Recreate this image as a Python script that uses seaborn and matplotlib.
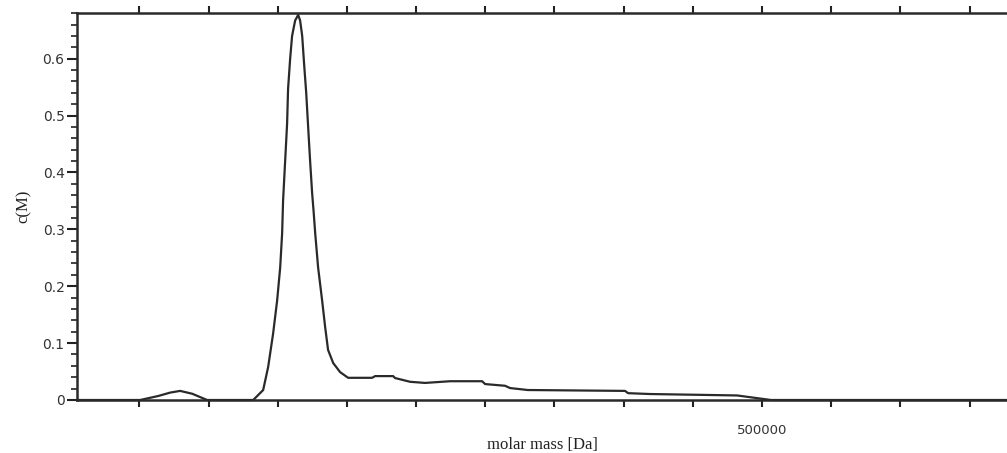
import matplotlib
matplotlib.use("Agg")
import matplotlib.pyplot as plt
import pandas as pd
import seaborn as sns
import numpy as np
from matplotlib.ticker import MultipleLocator

# molar mass distribution c(M)
molar_mass = [5000, 50600, 63600, 72300, 79500, 88200, 99000, 132300, 139500, 143100,
              146700, 149600, 151800, 153200, 153900, 155400, 156800, 157500, 159000,
              160400, 162600, 164800, 166200, 167700, 169100, 170600, 172000, 173400,
              174900, 175900, 177100, 179200, 182100, 184300, 186400, 190100, 195100,
              200900, 218200, 220400, 233400, 234800, 245700, 256500, 274600, 297700,
              299900, 314300, 317900, 330900, 332400, 401000, 403200, 419100, 481900,
              506500, 677000]
c_M = [0.0, 0.0, 0.007, 0.013, 0.016, 0.011, 0.0, 0.0, 0.0175, 0.058,
       0.117, 0.175, 0.233, 0.293, 0.351, 0.421, 0.486, 0.547, 0.600,
       0.640, 0.667, 0.677, 0.667, 0.640, 0.590, 0.540, 0.480, 0.421,
       0.363, 0.333, 0.293, 0.233, 0.175, 0.128, 0.088, 0.065, 0.049,
       0.039, 0.039, 0.042, 0.042, 0.0386, 0.032, 0.030, 0.033, 0.033,
       0.028, 0.025, 0.021, 0.0175, 0.0175, 0.016, 0.012, 0.0105, 0.008,
       0.0, 0.0]

xticks = list(range(50000, 700000, 50000))
xtick_labels = ["500000" if t == 500000 else "" for t in xticks]
yticks = [0, 0.1, 0.2, 0.3, 0.4, 0.5, 0.6]
ytick_labels = ["0", "0.1", "0.2", "0.3", "0.4", "0.5", "0.6"]

df = pd.DataFrame({"molar mass": molar_mass, "c(M)": c_M})

sns.set_style("ticks")
plt.rcParams["font.family"] = ["DejaVu Sans"]

fig = plt.figure(figsize=(10.07, 4.53), dpi=100)
ax = fig.add_axes([0.0765, 0.117, 0.9235, 0.854])

sns.lineplot(data=df, x="molar mass", y="c(M)", ax=ax, color="#2a2a2a", lw=1.6,
             clip_on=False, zorder=5)

ax.set_xlim(5000, 677000)
ax.set_ylim(0, 0.68)
ax.set_xticks(xticks)
ax.set_xticklabels(xtick_labels, fontsize=9.5, color="#333333")
ax.set_yticks(yticks)
ax.set_yticklabels(ytick_labels, fontsize=10, color="#333333")
ax.yaxis.set_minor_locator(MultipleLocator(0.02))

ax.tick_params(axis="x", which="major", direction="out", length=5, width=1.5,
               top=True, bottom=True, color="#222222", pad=12)
ax.tick_params(axis="y", which="major", direction="out", length=7, width=1.5, color="#222222", pad=2)
ax.tick_params(axis="y", which="minor", direction="out", length=4, width=1.2, color="#222222")

for side in ["left", "bottom", "top"]:
    ax.spines[side].set_linewidth(1.8)
    ax.spines[side].set_color("#2a2a2a")
ax.spines["right"].set_visible(False)

ax.set_xlabel("molar mass [Da]", family="Liberation Serif", fontsize=12, color="#222222", labelpad=0)
ax.set_ylabel("c(M)", family="Liberation Serif", fontsize=12, color="#222222", labelpad=8)

fig.savefig("out.png", dpi=100, facecolor="white")
